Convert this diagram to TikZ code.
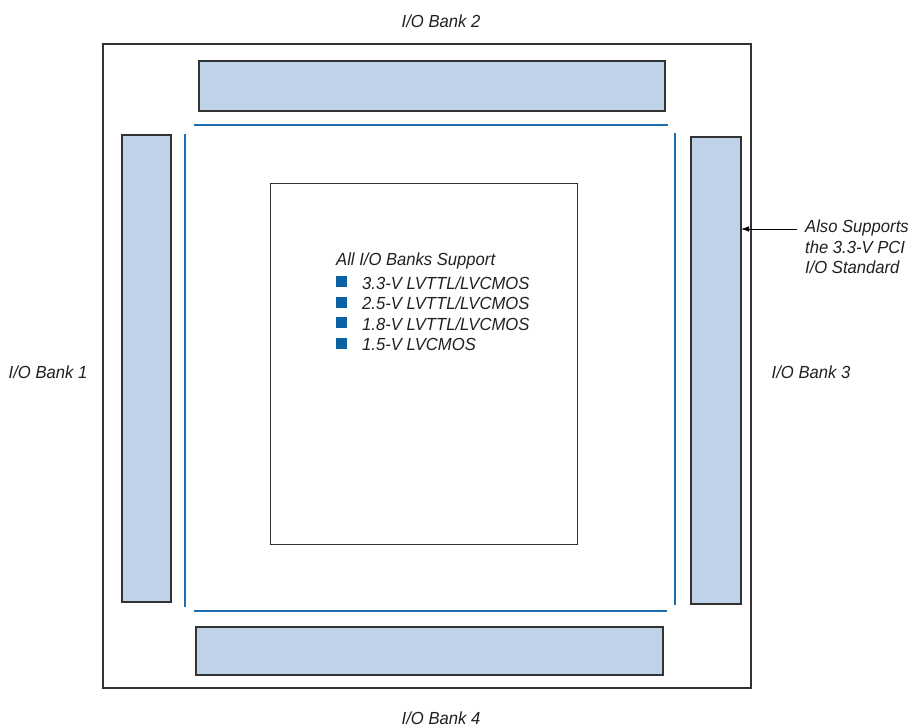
\documentclass[tikz,border=0pt]{standalone}
\usepackage{fontspec}
\setmainfont{Liberation Sans}[FakeStretch=0.95]
\usepackage{xcolor}
\usepackage{tikz}
\usetikzlibrary{positioning,arrows.meta}
\definecolor{bankfill}{RGB}{192,210,232}
\definecolor{railblue}{RGB}{31,111,176}
\definecolor{bulletblue}{RGB}{10,98,162}
\definecolor{frame}{RGB}{51,51,51}
\definecolor{ink}{RGB}{35,31,32}
\newcommand{\lblfont}{%
  % italic label text
  \fontsize{17.5}{20.5}\selectfont\itshape%
}

\begin{document}
\begin{tikzpicture}[x=1pt,y=-1pt,
    bank/.style={draw=frame,line width=1.8pt,fill=bankfill,inner sep=0pt,outer sep=0pt},
    rail/.style={draw=railblue,line width=1.4pt},
    bullet/.style={fill=bulletblue,inner sep=0pt,minimum size=11pt},
    label/.style={inner sep=0pt,text=ink,font=\lblfont}]
  \useasboundingbox (0,0) rectangle (910,725);
  % chip outline
  \node[draw=frame,line width=1.6pt,inner sep=0pt,minimum width=648pt,minimum height=644pt,anchor=north west] (chip) at (102,43) {};
  % the four banks
  \node[bank,minimum width=466pt,minimum height=50pt,anchor=north west] (bank2) at (199,61) {};
  \node[bank,minimum width=49pt,minimum height=467pt,anchor=north west] (bank1) at (122,135) {};
  \node[bank,minimum width=50pt,minimum height=467pt,anchor=north west] (bank3) at (691,137) {};
  \node[bank,minimum width=467pt,minimum height=48pt,anchor=north west] (bank4) at (196,627) {};
  % blue rails
  \draw[rail] (194,125) -- (668,125);
  \draw[rail] (194,611) -- (667,611);
  \draw[rail] (185,134) -- (185,607);
  \draw[rail] (675,133) -- (675,605);
  % core
  \node[draw=frame,line width=1.3pt,inner sep=0pt,minimum width=307pt,minimum height=361pt,anchor=north west] (core) at (270,183) {};
  \node[label,anchor=base west] (head) at (336,265) {All I/O Banks Support};
  \foreach \y/\t [count=\i] in {289/{3.3-V LVTTL/LVCMOS},309.5/{2.5-V LVTTL/LVCMOS},330/{1.8-V LVTTL/LVCMOS},350.5/{1.5-V LVCMOS}}{
    \node[label,anchor=base west] (item\i) at (362,\y) {\t};
    \node[bullet,anchor=south west] (sq\i) at (336,\y-1.5) {};
  }
  % bank names
  \node[label] (name2) at (441,21.5) {I/O Bank 2};
  \node[label] (name1) at (48,372.5) {I/O Bank 1};
  \node[label] (name3) at (811,372.5) {I/O Bank 3};
  \node[label] (name4) at (441,718.5) {I/O Bank 4};
  % PCI note
  \node[label,align=left,anchor=north west] (note) at (805,220) {Also Supports\\the 3.3-V PCI\\I/O Standard};
  \coordinate (tail) at (797,229);
  \draw[line width=0.8pt,-{Latex[length=8pt,width=5.5pt]}] (tail) -- (tail -| bank3.east);
\end{tikzpicture}
\end{document}
